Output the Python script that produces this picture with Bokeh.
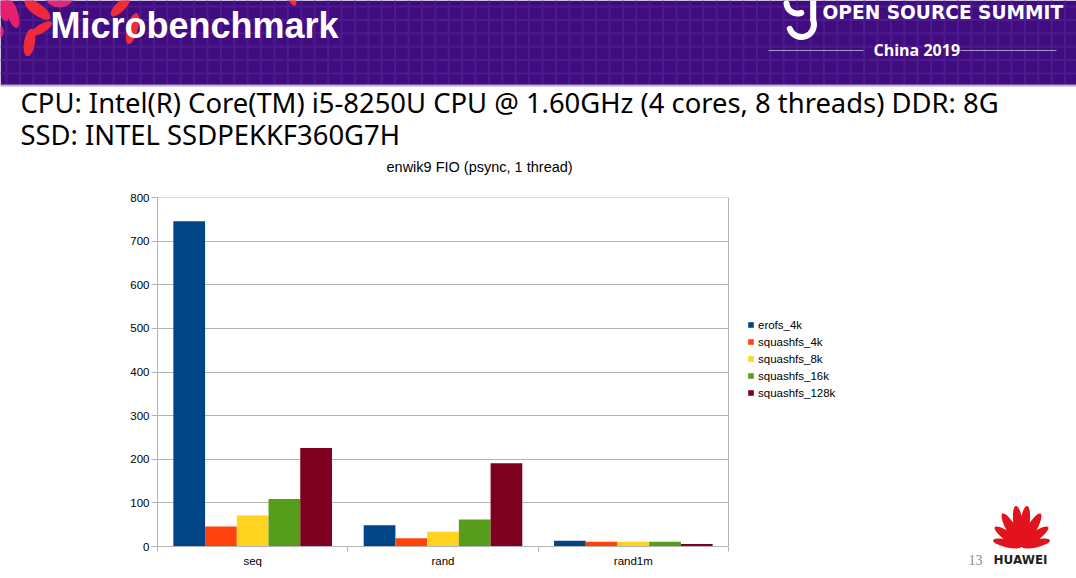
import numpy as np
from bokeh.plotting import figure
from bokeh.models import Range1d, FixedTicker, Legend, LegendItem, ColumnDataSource, Span
from bokeh.layouts import column, row
from bokeh.core.properties import value
from bokeh.embed import file_html
from bokeh.resources import INLINE

# ---------------- data ----------------
categories = ["seq", "rand", "rand1m"]
series_names = ["erofs_4k", "squashfs_4k", "squashfs_8k", "squashfs_16k", "squashfs_128k"]
erofs_4k = [746, 49, 13]
squashfs_4k = [46, 19, 11]
squashfs_8k = [71, 34, 11]
squashfs_16k = [109, 62, 11]
squashfs_128k = [226, 191, 6]
series_values = [erofs_4k, squashfs_4k, squashfs_8k, squashfs_16k, squashfs_128k]
series_colors = ["#004586", "#ff420e", "#ffd320", "#579d1c", "#7e0021"]
y_ticks = [0, 100, 200, 300, 400, 500, 600, 700, 800]
chart_title = "enwik9 FIO (psync, 1 thread)"
slide_title = "Microbenchmark"
spec_lines = ["CPU: Intel(R) Core(TM) i5-8250U CPU @ 1.60GHz (4 cores, 8 threads) DDR: 8G",
              "SSD: INTEL SSDPEKKF360G7H"]
event_name = "OPEN SOURCE SUMMIT"
event_sub = "China 2019"
page_no = "13"
brand = "HUAWEI"

W = 1076
HH = 180          # header height (slide head + chart title)
MH = 578 - HH     # chart height
BASE_FIX = 0.4    # svg alphabetic baseline correction (em)

def no_align(fig):
    try:
        fig.frame_align = False
    except Exception:
        pass

# ---------------- header ----------------
hdr = figure(width=W, height=HH, x_range=Range1d(0, W), y_range=Range1d(0, HH),
             output_backend="svg", toolbar_location=None, min_border=0,
             x_axis_location=None, y_axis_location=None, outline_line_color=None)
hdr.grid.visible = False
def hy(s):
    return HH - s
def ty(base, size):
    return hy(base - BASE_FIX * size)

hdr.quad(left=0, right=W, bottom=hy(85), top=HH, fill_color="#410c80", line_color=None)
gx = np.arange(6, W, 13.4)
hdr.segment(x0=gx, y0=hy(84), x1=gx, y1=HH, line_color="#4c1b8c", line_width=2)
gy = np.arange(6, 84, 13.4)
hdr.segment(x0=0, y0=hy(gy), x1=W, y1=hy(gy), line_color="#4c1b8c", line_width=2)
hdr.segment(x0=[0], y0=[hy(85)], x1=[W], y1=[hy(85)], line_color="#b9a8dc", line_width=2)

# decorative petals (cx, cy_screen, length, width, angle_deg, color)
petals = [
    (3, 6, 30, 11, 100, "#e21f70"),
    (12, 13, 30, 11, 107, "#e5206f"),
    (37, 9, 31, 12, -36, "#ee2a3c"),
    (59, -2, 26, 18, 0, "#dd2a78"),
    (29, 42, 28, 11, 80, "#ef2a3a"),
    (41, 28, 24, 9, 31, "#ef2b3b"),
    (0, 32, 12, 6, 80, "#e21f72"),
    (120, 6, 26, 10, 45, "#ee2c3a"),
    (132, 28, 32, 11, 75, "#ee2c3a"),
    (291, -2, 16, 7, -60, "#ee2c3a"),
]
for cx, cy, L, Wd, ang, col in petals:
    hdr.ellipse(x=[cx], y=[hy(cy)], width=L, height=Wd, angle=np.deg2rad(ang),
                fill_color=col, line_color=None)

hdr.text(x=[50], y=[ty(39, 36)], text=[slide_title], text_font=value("Liberation Sans"),
         text_font_style="bold", text_font_size="36px", text_color="white",
         text_baseline="alphabetic")

# OSS logo
hdr.arc(x=[797], y=[hy(2)], radius=11, start_angle=np.deg2rad(185), end_angle=np.deg2rad(290),
        line_color="white", line_width=6, line_cap="round")
hdr.arc(x=[801], y=[hy(24)], radius=12.5, start_angle=np.deg2rad(200), end_angle=np.deg2rad(20),
        line_color="white", line_width=6, line_cap="round")
hdr.segment(x0=[812.7], y0=[hy(19.7)], x1=[812.7], y1=[hy(-2)], line_color="white", line_width=6)
hdr.text(x=[822], y=[ty(19, 18.6)], text=[event_name], text_font=value("DejaVu Sans"),
         text_font_style="bold", text_font_size="18.6px", text_color="white",
         text_baseline="alphabetic")
hdr.segment(x0=[768, 960], y0=[hy(50), hy(50)], x1=[863, 1056], y1=[hy(50), hy(50)],
            line_color="#a596cc", line_width=1)
hdr.text(x=[873], y=[ty(56, 16)], text=[event_sub], text_font=value("Open Sans"),
         text_font_style="bold", text_font_size="16px", text_color="white",
         text_baseline="alphabetic")

hdr.text(x=[20, 20], y=[ty(113, 27.4), ty(145, 27.4)], text=spec_lines,
         text_font=value("Noto Sans"), text_font_size="27.4px", text_color="black",
         text_baseline="alphabetic")

# chart title
hdr.text(x=[386], y=[ty(172.5, 14.5)], text=[chart_title], text_font=value("Liberation Sans"),
         text_font_size="14.5px", text_color="black", text_baseline="alphabetic")

# ---------------- main chart ----------------
# plot area spans 157..728 px for the 3 categories; the frame continues to 860 px
# so that the legend (to the right of the plot area) is drawn inside it.
ncat = len(categories)
x_end = ncat * (860 - 157) / (728 - 157)
main = figure(width=940, height=MH, x_range=Range1d(0, x_end), y_range=Range1d(0, 800.4),
              output_backend="svg", toolbar_location=None,
              min_border_left=157, min_border_right=80, min_border_top=17, min_border_bottom=32)
no_align(main)
main.outline_line_color = None

grey = "#b3b3b3"
items = []
n = len(series_names)
for j, (name, vals, col) in enumerate(zip(series_names, series_values, series_colors)):
    xs = np.arange(ncat) + 0.5 + (j - (n - 1) / 2) / (n + 1)
    src = ColumnDataSource(dict(x=xs, top=vals))
    r = main.vbar(x="x", top="top", bottom=0, width=1 / (n + 1), source=src,
                  fill_color=col, line_color=None)
    items.append(LegendItem(label=name, renderers=[r]))

main.xgrid.visible = False
grid = main.ygrid[0]
if "cross_bounds" in grid.properties():
    grid.ticker = FixedTicker(ticks=y_ticks)
    grid.grid_line_color = grey
    grid.cross_bounds = (0, ncat)
else:
    grid.visible = False
    main.segment(x0=0, x1=ncat, y0=y_ticks, y1=y_ticks, line_color=grey, line_width=1)
main.add_layout(Span(location=ncat, dimension="height", line_color=grey, line_width=1))

xa = main.xaxis[0]
xa.bounds = (0, ncat)
xa.ticker = FixedTicker(ticks=[i + 0.5 for i in range(ncat)], minor_ticks=list(range(ncat + 1)))
xa.major_label_overrides = {i + 0.5: c for i, c in enumerate(categories)}
xa.major_tick_out = 0
xa.major_tick_in = 0
xa.minor_tick_out = 5
xa.minor_tick_in = 0
xa.minor_tick_line_color = grey
xa.axis_line_color = grey
xa.major_label_standoff = 3

ya = main.yaxis[0]
ya.ticker = FixedTicker(ticks=y_ticks)
ya.major_tick_out = 6
ya.major_tick_in = 0
ya.major_tick_line_color = grey
ya.minor_tick_line_color = None
ya.axis_line_color = grey
ya.major_label_standoff = 2

for ax in (xa, ya):
    ax.major_label_text_font = "Liberation Sans"
    ax.major_label_text_font_size = "11.5px"
    ax.major_label_text_color = "black"

legend = Legend(items=items, location=(590, 146), orientation="vertical",
                border_line_color=None, background_fill_alpha=0, padding=0, margin=0,
                glyph_width=7, glyph_height=7, label_standoff=4, label_height=15, spacing=2,
                label_text_font="Liberation Sans", label_text_font_size="11.5px",
                label_text_color="black")
main.add_layout(legend, "center")

# ---------------- side (page number + logo) ----------------
side = figure(width=W - 940, height=MH, x_range=Range1d(940, W), y_range=Range1d(0, MH),
              output_backend="svg", toolbar_location=None, min_border=0,
              x_axis_location=None, y_axis_location=None, outline_line_color=None)
no_align(side)
side.grid.visible = False
def sy(s):
    return 578 - s
def sty(base, size):
    return sy(base - BASE_FIX * size)

bx, by = 1021, sy(546)
logo_petals = [(12, 29, 8), (36, 33, 9), (60, 38, 10), (82, 41, 10)]
for ang, L, Wd in logo_petals:
    for a in (ang, 180 - ang):
        t = np.deg2rad(a)
        side.ellipse(x=[bx + L / 2 * np.cos(t)], y=[by + L / 2 * np.sin(t)], width=L, height=Wd,
                     angle=t, fill_color="#e3131d", line_color=None)
side.text(x=[968], y=[sty(565, 14)], text=[page_no], text_font=value("Liberation Serif"),
          text_font_size="14px", text_color="#8c8c8c", text_baseline="alphabetic")
side.text(x=[993], y=[sty(564, 12)], text=[brand], text_font=value("DejaVu Sans"),
          text_font_style="bold", text_font_size="12px", text_color="#231f20",
          text_baseline="alphabetic")

layout = column(hdr, row(main, side, spacing=0), spacing=0)
open("out.html", "w").write(file_html(layout, INLINE))
